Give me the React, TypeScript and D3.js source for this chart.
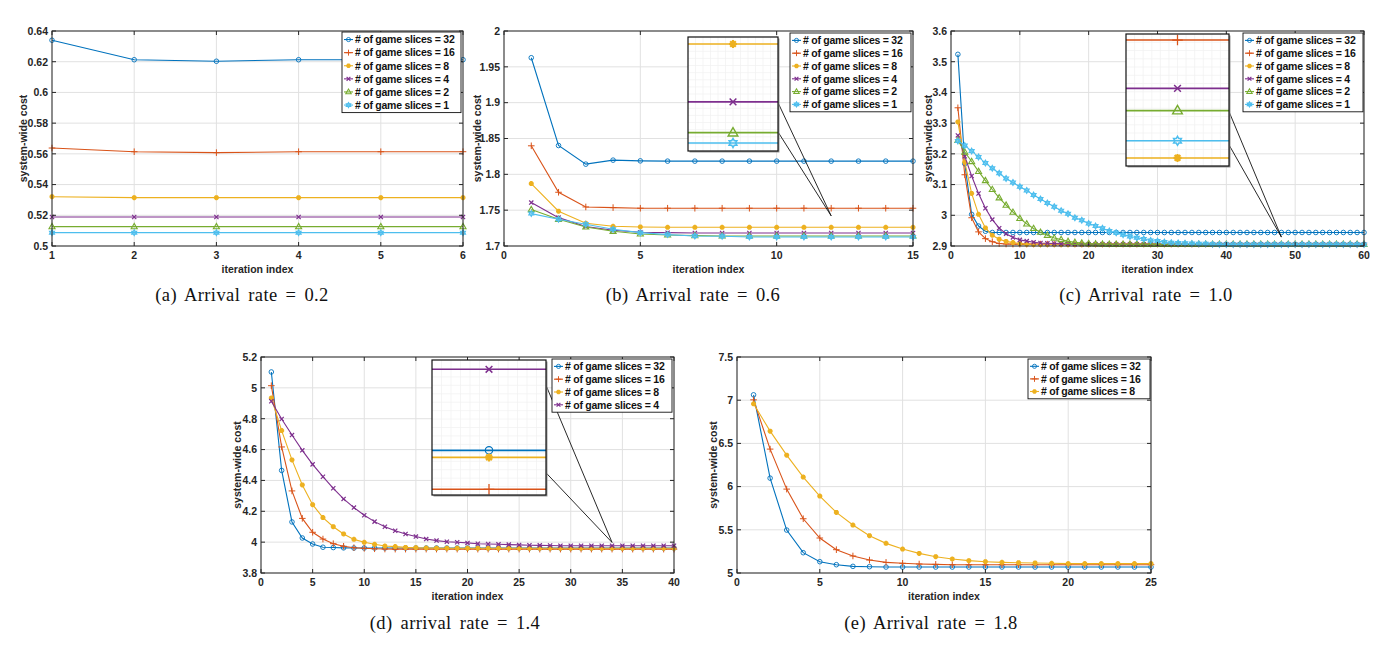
import React from "react";
import * as d3 from "d3";

// ---------------- data ----------------
const legendLabels = [
  "# of game slices = 32",
  "# of game slices = 16",
  "# of game slices = 8",
  "# of game slices = 4",
  "# of game slices = 2",
  "# of game slices = 1",
];

// (a) arrival rate 0.2
const rate02_s32 = [0.634, 0.6213, 0.6203, 0.6213, 0.6213, 0.6213];
const rate02_s16 = [0.5638, 0.5614, 0.5608, 0.5614, 0.5614, 0.5614];
const rate02_s8 = [0.5321, 0.5315, 0.5315, 0.5315, 0.5315, 0.5315];
const rate02_s4 = [0.5189, 0.5189, 0.5189, 0.5189, 0.5189, 0.5189];
const rate02_s2 = [0.5126, 0.5126, 0.5126, 0.5126, 0.5126, 0.5126];
const rate02_s1 = [0.5087, 0.5087, 0.5087, 0.5087, 0.5087, 0.5087];

// (b) arrival rate 0.6
const rate06_s32 = [1.9627, 1.8402, 1.8142, 1.8198, 1.8188, 1.8184, 1.8184, 1.8184, 1.8184, 1.8184, 1.8184, 1.8184, 1.8184, 1.8184, 1.8184];
const rate06_s16 = [1.8398, 1.775, 1.7545, 1.7536, 1.7527, 1.7527, 1.7527, 1.7527, 1.7527, 1.7527, 1.7527, 1.7527, 1.7527, 1.7527, 1.7527];
const rate06_s8 = [1.7871, 1.7485, 1.7317, 1.7275, 1.7266, 1.7261, 1.7261, 1.7261, 1.7261, 1.7261, 1.7261, 1.7261, 1.7261, 1.7261, 1.7261];
const rate06_s4 = [1.7606, 1.7396, 1.7271, 1.7219, 1.7191, 1.7186, 1.7182, 1.7182, 1.7182, 1.7182, 1.7182, 1.7182, 1.7182, 1.7182, 1.7182];
const rate06_s2 = [1.7508, 1.7373, 1.7266, 1.7205, 1.7168, 1.7154, 1.7145, 1.714, 1.714, 1.714, 1.714, 1.714, 1.714, 1.714, 1.714];
const rate06_s1 = [1.7452, 1.7373, 1.7303, 1.7233, 1.7186, 1.7159, 1.714, 1.7135, 1.7126, 1.7126, 1.7126, 1.7126, 1.7126, 1.7126, 1.7126];

// (c) arrival rate 1.0
const rate10_s32 = [
  3.524, 3.168, 3.003, 2.965, 2.948, 2.944, 2.944, 2.944, 2.944, 2.944,
  2.944, 2.944, 2.944, 2.944, 2.944, 2.944, 2.944, 2.944, 2.944, 2.944,
  2.944, 2.944, 2.944, 2.944, 2.944, 2.944, 2.944, 2.944, 2.944, 2.944,
  2.944, 2.944, 2.944, 2.944, 2.944, 2.944, 2.944, 2.944, 2.944, 2.944,
  2.944, 2.944, 2.944, 2.944, 2.944, 2.944, 2.944, 2.944, 2.944, 2.944,
  2.944, 2.944, 2.944, 2.944, 2.944, 2.944, 2.944, 2.944, 2.944, 2.944,
];
const rate10_s16 = [
  3.35, 3.132, 2.992, 2.946, 2.924, 2.914, 2.908, 2.9065, 2.90617, 2.90617,
  2.90617, 2.90617, 2.90617, 2.90617, 2.90617, 2.90617, 2.90617, 2.90617, 2.90617, 2.90617,
  2.90617, 2.90617, 2.90617, 2.90617, 2.90617, 2.90617, 2.90617, 2.90617, 2.90617, 2.90617,
  2.90617, 2.90617, 2.90617, 2.90617, 2.90617, 2.90617, 2.90617, 2.90617, 2.90617, 2.90617,
  2.90617, 2.90617, 2.90617, 2.90617, 2.90617, 2.90617, 2.90617, 2.90617, 2.90617, 2.90617,
  2.90617, 2.90617, 2.90617, 2.90617, 2.90617, 2.90617, 2.90617, 2.90617, 2.90617, 2.90617,
];
const rate10_s8 = [
  3.304, 3.173, 3.071, 3.003, 2.959, 2.935, 2.922, 2.915, 2.911, 2.908,
  2.906, 2.905, 2.905, 2.905, 2.905, 2.905, 2.905, 2.905, 2.905, 2.905,
  2.905, 2.905, 2.905, 2.905, 2.905, 2.905, 2.905, 2.905, 2.905, 2.905,
  2.905, 2.905, 2.905, 2.905, 2.905, 2.905, 2.905, 2.905, 2.905, 2.905,
  2.905, 2.905, 2.905, 2.905, 2.905, 2.905, 2.905, 2.905, 2.905, 2.905,
  2.905, 2.905, 2.905, 2.905, 2.905, 2.905, 2.905, 2.905, 2.905, 2.905,
];
const rate10_s4 = [
  3.26, 3.192, 3.128, 3.071, 3.023, 2.986, 2.958, 2.94, 2.928, 2.92,
  2.916, 2.912, 2.91, 2.909, 2.908, 2.907, 2.907, 2.906, 2.90569, 2.90569,
  2.90569, 2.90569, 2.90569, 2.90569, 2.90569, 2.90569, 2.90569, 2.90569, 2.90569, 2.90569,
  2.90569, 2.90569, 2.90569, 2.90569, 2.90569, 2.90569, 2.90569, 2.90569, 2.90569, 2.90569,
  2.90569, 2.90569, 2.90569, 2.90569, 2.90569, 2.90569, 2.90569, 2.90569, 2.90569, 2.90569,
  2.90569, 2.90569, 2.90569, 2.90569, 2.90569, 2.90569, 2.90569, 2.90569, 2.90569, 2.90569,
];
const rate10_s2 = [
  3.244, 3.206, 3.175, 3.143, 3.113, 3.084, 3.057, 3.033, 3.01, 2.99,
  2.972, 2.957, 2.945, 2.935, 2.926, 2.921, 2.915, 2.912, 2.91, 2.908,
  2.907, 2.906, 2.90547, 2.90547, 2.90547, 2.90547, 2.90547, 2.90547, 2.90547, 2.90547,
  2.90547, 2.90547, 2.90547, 2.90547, 2.90547, 2.90547, 2.90547, 2.90547, 2.90547, 2.90547,
  2.90547, 2.90547, 2.90547, 2.90547, 2.90547, 2.90547, 2.90547, 2.90547, 2.90547, 2.90547,
  2.90547, 2.90547, 2.90547, 2.90547, 2.90547, 2.90547, 2.90547, 2.90547, 2.90547, 2.90547,
];
const rate10_s1 = [
  3.242, 3.227, 3.209, 3.19, 3.17, 3.153, 3.137, 3.12, 3.107, 3.093,
  3.081, 3.066, 3.053, 3.04, 3.028, 3.015, 3.005, 2.992, 2.984, 2.973,
  2.965, 2.958, 2.949, 2.943, 2.937, 2.931, 2.927, 2.923, 2.918, 2.916,
  2.913, 2.911, 2.91, 2.909, 2.908, 2.907, 2.907, 2.906, 2.90517, 2.90517,
  2.90517, 2.90517, 2.90517, 2.90517, 2.90517, 2.90517, 2.90517, 2.90517, 2.90517, 2.90517,
  2.90517, 2.90517, 2.90517, 2.90517, 2.90517, 2.90517, 2.90517, 2.90517, 2.90517, 2.90517,
];

// (d) arrival rate 1.4
const rate14_s32 = [
  5.103, 4.465, 4.131, 4.027, 3.988, 3.967, 3.965, 3.963, 3.962, 3.962,
  3.962, 3.962, 3.962, 3.962, 3.962, 3.962, 3.962, 3.962, 3.962, 3.962,
  3.962, 3.962, 3.962, 3.962, 3.962, 3.962, 3.962, 3.962, 3.962, 3.962,
  3.962, 3.962, 3.962, 3.962, 3.962, 3.962, 3.962, 3.962, 3.962, 3.962,
];
const rate14_s16 = [
  5.014, 4.617, 4.332, 4.154, 4.064, 4.02, 3.99, 3.973, 3.964, 3.96,
  3.957, 3.9555, 3.9548, 3.9548, 3.9548, 3.9548, 3.9548, 3.9548, 3.9548, 3.9548,
  3.9548, 3.9548, 3.9548, 3.9548, 3.9548, 3.9548, 3.9548, 3.9548, 3.9548, 3.9548,
  3.9548, 3.9548, 3.9548, 3.9548, 3.9548, 3.9548, 3.9548, 3.9548, 3.9548, 3.9548,
];
const rate14_s8 = [
  4.934, 4.723, 4.533, 4.371, 4.243, 4.159, 4.1, 4.053, 4.018, 3.999,
  3.986, 3.975, 3.971, 3.966, 3.964, 3.962, 3.961, 3.9607, 3.9607, 3.9607,
  3.9607, 3.9607, 3.9607, 3.9607, 3.9607, 3.9607, 3.9607, 3.9607, 3.9607, 3.9607,
  3.9607, 3.9607, 3.9607, 3.9607, 3.9607, 3.9607, 3.9607, 3.9607, 3.9607, 3.9607,
];
const rate14_s4 = [
  4.913, 4.798, 4.694, 4.595, 4.504, 4.424, 4.349, 4.28, 4.224, 4.174,
  4.133, 4.1, 4.074, 4.053, 4.036, 4.02, 4.01, 4.003, 3.999, 3.995,
  3.99, 3.988, 3.986, 3.984, 3.982, 3.98, 3.979, 3.978, 3.977, 3.977,
  3.977, 3.977, 3.977, 3.977, 3.977, 3.977, 3.977, 3.977, 3.977, 3.977,
];

// (e) arrival rate 1.8
const rate18_s32 = [
  7.062, 6.098, 5.497, 5.235, 5.131, 5.096, 5.077, 5.073, 5.069, 5.069,
  5.069, 5.069, 5.069, 5.069, 5.069, 5.069, 5.069, 5.069, 5.069, 5.069,
  5.069, 5.069, 5.069, 5.069, 5.069,
];
const rate18_s16 = [
  7.004, 6.434, 5.971, 5.628, 5.405, 5.27, 5.197, 5.15, 5.123, 5.112,
  5.104, 5.1, 5.096, 5.096, 5.096, 5.096, 5.096, 5.096, 5.096, 5.096,
  5.096, 5.096, 5.096, 5.096, 5.096,
];
const rate18_s8 = [
  6.958, 6.642, 6.364, 6.11, 5.89, 5.701, 5.555, 5.432, 5.343, 5.277,
  5.227, 5.189, 5.162, 5.143, 5.131, 5.123, 5.119, 5.116, 5.112, 5.108,
  5.108, 5.108, 5.108, 5.108, 5.108,
];

// ticks
const xTicksA = [1, 2, 3, 4, 5, 6];
const yTicksA = [0.5, 0.52, 0.54, 0.56, 0.58, 0.6, 0.62, 0.64];
const xTicksB = [0, 5, 10, 15];
const yTicksB = [1.7, 1.75, 1.8, 1.85, 1.9, 1.95, 2];
const xTicksC = [0, 10, 20, 30, 40, 50, 60];
const yTicksC = [2.9, 3, 3.1, 3.2, 3.3, 3.4, 3.5, 3.6];
const xTicksD = [0, 5, 10, 15, 20, 25, 30, 35, 40];
const yTicksD = [3.8, 4, 4.2, 4.4, 4.6, 4.8, 5, 5.2];
const xTicksE = [0, 5, 10, 15, 20, 25];
const yTicksE = [5, 5.5, 6, 6.5, 7, 7.5];

const captions = [
  "(a) Arrival rate = 0.2",
  "(b) Arrival rate = 0.6",
  "(c) Arrival rate = 1.0",
  "(d) arrival rate = 1.4",
  "(e) Arrival rate = 1.8",
];
const xAxisLabel = "iteration index";
const yAxisLabel = "system-wide cost";

// ---------------- styles ----------------
const COLORS = ["#0072BD", "#D95319", "#EDB120", "#7E2F8E", "#77AC30", "#4DBEEE"];
const MARKERS = ["o", "+", "*", "x", "^", "h"];
const SANS = "'Liberation Sans', Arial, Helvetica, sans-serif";
const SERIF = "'Liberation Serif', 'Times New Roman', serif";
const fmt = d3.format("~g");

function Marker({ kind, cx, cy, color, k }: any) {
  if (kind === "o") {
    return <circle cx={cx} cy={cy} r={2.3 * k} fill="none" stroke={color} strokeWidth={0.9 * Math.sqrt(k)} />;
  }
  if (kind === "+") {
    const s = 3.3 * k;
    return <path d={`M${cx - s},${cy}H${cx + s}M${cx},${cy - s}V${cy + s}`} stroke={color} strokeWidth={1 * Math.sqrt(k)} fill="none" />;
  }
  if (kind === "x") {
    const s = 2.1 * k;
    return (
      <path
        d={`M${cx - s},${cy - s}L${cx + s},${cy + s}M${cx - s},${cy + s}L${cx + s},${cy - s}`}
        stroke={color}
        strokeWidth={1.2 * Math.sqrt(k)}
        fill="none"
      />
    );
  }
  if (kind === "*") {
    const s = 2.5 * k;
    const d = s * 0.707;
    return (
      <path
        d={`M${cx - s},${cy}H${cx + s}M${cx},${cy - s}V${cy + s}M${cx - d},${cy - d}L${cx + d},${cy + d}M${cx - d},${cy + d}L${cx + d},${cy - d}`}
        stroke={color}
        strokeWidth={1.7 * Math.sqrt(k)}
        fill="none"
      />
    );
  }
  if (kind === "^") {
    const s = 3.2 * k;
    return (
      <polygon
        points={`${cx},${cy - s} ${cx - s * 0.95},${cy + s * 0.65} ${cx + s * 0.95},${cy + s * 0.65}`}
        fill="none"
        stroke={color}
        strokeWidth={1.1 * Math.sqrt(k)}
      />
    );
  }
  // hexagram
  const R = 2.8 * k;
  const r = R * 0.58;
  const pts: string[] = [];
  for (let i = 0; i < 12; i++) {
    const a = (Math.PI / 6) * i - Math.PI / 2;
    const rr = i % 2 === 0 ? R : r;
    pts.push(`${cx + rr * Math.cos(a)},${cy + rr * Math.sin(a)}`);
  }
  return (
    <polygon
      points={pts.join(" ")}
      fill={k > 1.3 ? "none" : color}
      fillOpacity={0.6}
      stroke={color}
      strokeWidth={1.2 * Math.sqrt(k)}
    />
  );
}

type SeriesDef = { values: number[]; idx: number };

function Panel(props: any) {
  const { id, frame, xDomain, yDomain, xTicks, yTicks, series, legend, inset, caption, yLabelX } = props;
  const { x0, x1, y0, y1 } = frame;
  const x = d3.scaleLinear().domain(xDomain).range([x0, x1]);
  const y = d3.scaleLinear().domain(yDomain).range([y1, y0]);
  const line = d3
    .line<number>()
    .x((_d, i) => x(i + 1))
    .y((d) => y(d));
  const tickLen = 4;
  const tickColor = "#262626";

  let insetEl: any = null;
  if (inset) {
    const ix = d3.scaleLinear().domain(inset.xDomain).range([inset.x, inset.x + inset.w]);
    const iy = d3.scaleLinear().domain(inset.yDomain).range([inset.y + inset.h, inset.y]);
    const iline = d3
      .line<number>()
      .x((_d, i) => ix(i + 1))
      .y((d) => iy(d));
    const gx = d3.range(1, 12).map((i) => inset.x + (inset.w * i) / 12);
    const gy = d3.range(1, 16).map((i) => inset.y + (inset.h * i) / 16);
    const tx = x(inset.target[0]);
    const ty = y(inset.target[1]);
    insetEl = (
      <g>
        {inset.connectors.map((v: number, i: number) => (
          <line key={i} x1={inset.x + inset.w} y1={iy(v)} x2={tx} y2={ty} stroke="#111" strokeWidth={0.9} />
        ))}
        <rect x={inset.x + 1.5} y={inset.y + 1.5} width={inset.w} height={inset.h} fill="#9a9a9a" />
        <rect x={inset.x} y={inset.y} width={inset.w} height={inset.h} fill="#fff" />
        <clipPath id={`clip-${id}`}>
          <rect x={inset.x} y={inset.y} width={inset.w} height={inset.h} />
        </clipPath>
        <g clipPath={`url(#clip-${id})`}>
          {gx.map((g, i) => (
            <line key={"gx" + i} x1={g} x2={g} y1={inset.y} y2={inset.y + inset.h} stroke="#f0f0f0" strokeWidth={0.7} />
          ))}
          {gy.map((g, i) => (
            <line key={"gy" + i} y1={g} y2={g} x1={inset.x} x2={inset.x + inset.w} stroke="#f0f0f0" strokeWidth={0.7} />
          ))}
          {series.map((s: SeriesDef, si: number) => (
            <g key={si}>
              <path d={iline(s.values) || ""} fill="none" stroke={COLORS[s.idx]} strokeWidth={1.6} />
              {s.values.map((v, i) =>
                i + 1 >= inset.xDomain[0] && i + 1 <= inset.xDomain[1] ? (
                  <Marker key={i} kind={MARKERS[s.idx]} cx={ix(i + 1)} cy={iy(v)} color={COLORS[s.idx]} k={1.6} />
                ) : null
              )}
            </g>
          ))}
        </g>
        <rect x={inset.x} y={inset.y} width={inset.w} height={inset.h} fill="none" stroke="#111" strokeWidth={1.2} />
      </g>
    );
  }

  const rowH = legend.rowH;
  return (
    <g>
      {/* grid */}
      {xTicks.map((t: number, i: number) => (
        <line key={"gx" + i} x1={x(t)} x2={x(t)} y1={y0} y2={y1} stroke="#e1e1e1" strokeWidth={1} />
      ))}
      {yTicks.map((t: number, i: number) => (
        <line key={"gy" + i} y1={y(t)} y2={y(t)} x1={x0} x2={x1} stroke="#e1e1e1" strokeWidth={1} />
      ))}
      {/* series */}
      {series.map((s: SeriesDef, si: number) => (
        <g key={si}>
          <path d={line(s.values) || ""} fill="none" stroke={COLORS[s.idx]} strokeWidth={1.1} />
          {s.values.map((v, i) => (
            <Marker key={i} kind={MARKERS[s.idx]} cx={x(i + 1)} cy={y(v)} color={COLORS[s.idx]} k={1} />
          ))}
        </g>
      ))}
      {/* box and ticks */}
      <rect x={x0} y={y0} width={x1 - x0} height={y1 - y0} fill="none" stroke={tickColor} strokeWidth={1} />
      {xTicks.map((t: number, i: number) => (
        <g key={"tx" + i}>
          <line x1={x(t)} x2={x(t)} y1={y1} y2={y1 - tickLen} stroke={tickColor} />
          <line x1={x(t)} x2={x(t)} y1={y0} y2={y0 + tickLen} stroke={tickColor} />
          <text x={x(t)} y={y1 + 13} textAnchor="middle" fontFamily={SANS} fontWeight="bold" fontSize={10.5} fill="#262626">
            {fmt(t)}
          </text>
        </g>
      ))}
      {yTicks.map((t: number, i: number) => (
        <g key={"ty" + i}>
          <line x1={x0} x2={x0 + tickLen} y1={y(t)} y2={y(t)} stroke={tickColor} />
          <line x1={x1} x2={x1 - tickLen} y1={y(t)} y2={y(t)} stroke={tickColor} />
          <text x={x0 - 4} y={y(t) + 3.8} textAnchor="end" fontFamily={SANS} fontWeight="bold" fontSize={10.5} fill="#262626">
            {fmt(t)}
          </text>
        </g>
      ))}
      <text x={(x0 + x1) / 2} y={y1 + 26.5} textAnchor="middle" fontFamily={SANS} fontWeight="bold" fontSize={10.5} fill="#262626">
        {xAxisLabel}
      </text>
      <text
        transform={`translate(${yLabelX},${(y0 + y1) / 2}) rotate(-90)`}
        textAnchor="middle"
        dy="0.35em"
        fontFamily={SANS}
        fontWeight="bold"
        fontSize={10.5}
        fill="#262626"
      >
        {yAxisLabel}
      </text>
      {insetEl}
      {/* legend */}
      <g>
        <rect x={legend.x} y={legend.y} width={legend.w} height={rowH * series.length + 2} fill="#fff" stroke="#111" strokeWidth={0.9} />
        {series.map((s: SeriesDef, i: number) => {
          const cy = legend.y + 1 + rowH * (i + 0.5);
          return (
            <g key={i}>
              <line x1={legend.x + 2} x2={legend.x + 11} y1={cy} y2={cy} stroke={COLORS[s.idx]} strokeWidth={1.1} />
              <Marker kind={MARKERS[s.idx]} cx={legend.x + 6.5} cy={cy} color={COLORS[s.idx]} k={0.9} />
              <text
                x={legend.x + 13}
                y={cy + 3.8}
                fontFamily={SANS}
                fontWeight="bold"
                fontSize={10.5}
                letterSpacing={-0.25}
                fill="#111"
              >
                {legendLabels[s.idx]}
              </text>
            </g>
          );
        })}
      </g>
      {/* caption */}
      <text
        x={caption.cx}
        y={caption.y}
        textAnchor="middle"
        fontFamily={SERIF}
        fontSize={18.5}
        letterSpacing={0.4}
        wordSpacing={3}
        fill="#111"
      >
        {caption.text}
      </text>
    </g>
  );
}

export default function App() {
  return (
    <svg width={1396} height={650} style={{ position: "absolute", left: 0, top: 0, background: "#fff" }}>
      <rect x={0} y={0} width={1396} height={650} fill="#fff" />
      <Panel
        id="a"
        frame={{ x0: 52, x1: 463, y0: 31, y1: 246 }}
        xDomain={[1, 6]}
        yDomain={[0.5, 0.64]}
        xTicks={xTicksA}
        yTicks={yTicksA}
        yLabelX={23}
        series={[
          { values: rate02_s32, idx: 0 },
          { values: rate02_s16, idx: 1 },
          { values: rate02_s8, idx: 2 },
          { values: rate02_s4, idx: 3 },
          { values: rate02_s2, idx: 4 },
          { values: rate02_s1, idx: 5 },
        ]}
        legend={{ x: 342, y: 32, w: 119, rowH: 13.1 }}
        caption={{ text: captions[0], cx: 242, y: 301 }}
      />
      <Panel
        id="b"
        frame={{ x0: 504, x1: 913, y0: 31, y1: 246 }}
        xDomain={[0, 15]}
        yDomain={[1.7, 2]}
        xTicks={xTicksB}
        yTicks={yTicksB}
        yLabelX={477}
        series={[
          { values: rate06_s32, idx: 0 },
          { values: rate06_s16, idx: 1 },
          { values: rate06_s8, idx: 2 },
          { values: rate06_s4, idx: 3 },
          { values: rate06_s2, idx: 4 },
          { values: rate06_s1, idx: 5 },
        ]}
        legend={{ x: 790, y: 33, w: 121, rowH: 12.8 }}
        inset={{
          x: 688,
          y: 37,
          w: 90,
          h: 114,
          xDomain: [11.8, 12.2],
          yDomain: [1.7115, 1.72705],
          connectors: [1.7181, 1.7141],
          target: [12, 1.742],
        }}
        caption={{ text: captions[1], cx: 693, y: 301 }}
      />
      <Panel
        id="c"
        frame={{ x0: 951, x1: 1364, y0: 31, y1: 246 }}
        xDomain={[0, 60]}
        yDomain={[2.9, 3.6]}
        xTicks={xTicksC}
        yTicks={yTicksC}
        yLabelX={928}
        series={[
          { values: rate10_s32, idx: 0 },
          { values: rate10_s16, idx: 1 },
          { values: rate10_s8, idx: 2 },
          { values: rate10_s4, idx: 3 },
          { values: rate10_s2, idx: 4 },
          { values: rate10_s1, idx: 5 },
        ]}
        legend={{ x: 1243, y: 33, w: 120, rowH: 12.8 }}
        inset={{
          x: 1126,
          y: 34,
          w: 103,
          h: 132,
          xDomain: [47.7, 48.3],
          yDomain: [2.90492, 2.90623],
          connectors: [2.90546, 2.90513],
          target: [48, 2.929],
        }}
        caption={{ text: captions[2], cx: 1146, y: 301 }}
      />
      <Panel
        id="d"
        frame={{ x0: 261, x1: 674, y0: 357, y1: 573 }}
        xDomain={[0, 40]}
        yDomain={[3.8, 5.2]}
        xTicks={xTicksD}
        yTicks={yTicksD}
        yLabelX={237}
        series={[
          { values: rate14_s32, idx: 0 },
          { values: rate14_s16, idx: 1 },
          { values: rate14_s8, idx: 2 },
          { values: rate14_s4, idx: 3 },
        ]}
        legend={{ x: 552, y: 359, w: 120, rowH: 12.8 }}
        inset={{
          x: 432,
          y: 360,
          w: 114,
          h: 135,
          xDomain: [33.7, 34.3],
          yDomain: [3.95374, 3.97872],
          connectors: [3.97404, 3.95785],
          target: [34, 3.998],
        }}
        caption={{ text: captions[3], cx: 455, y: 629 }}
      />
      <Panel
        id="e"
        frame={{ x0: 737, x1: 1151, y0: 357, y1: 573 }}
        xDomain={[0, 25]}
        yDomain={[5, 7.5]}
        xTicks={xTicksE}
        yTicks={yTicksE}
        yLabelX={713}
        series={[
          { values: rate18_s32, idx: 0 },
          { values: rate18_s16, idx: 1 },
          { values: rate18_s8, idx: 2 },
        ]}
        legend={{ x: 1028, y: 359, w: 122, rowH: 12.6 }}
        caption={{ text: captions[4], cx: 931, y: 629 }}
      />
    </svg>
  );
}
